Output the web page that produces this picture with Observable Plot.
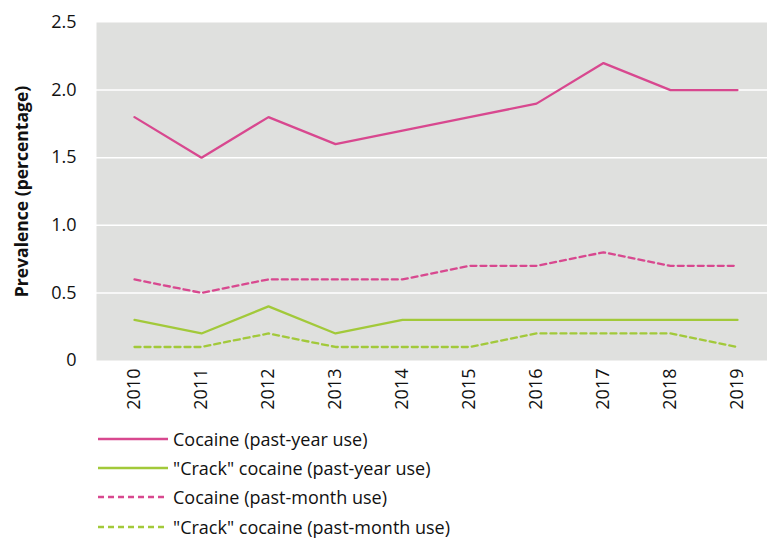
<!DOCTYPE html>
<html><head><meta charset="utf-8">
<script src="https://cdn.jsdelivr.net/npm/d3@7"></script>
<script src="https://cdn.jsdelivr.net/npm/@observablehq/plot@0.6"></script>
<style>
body{margin:0;background:#fff;font-family:"Open Sans",sans-serif;}
#chart svg{display:block;}
#legend{margin-left:98px;margin-top:2px;}
.row{display:flex;align-items:center;height:29.3px;font-size:18px;line-height:20px;color:#111;}
.row svg{margin-right:5px;}
</style></head><body>
<div id="chart"></div>
<div id="legend"></div>
<script>
const years = [2010,2011,2012,2013,2014,2015,2016,2017,2018,2019];
const cocaineYear = [1.8,1.5,1.8,1.6,1.7,1.8,1.9,2.2,2.0,2.0];
const crackYear = [0.3,0.2,0.4,0.2,0.3,0.3,0.3,0.3,0.3,0.3];
const cocaineMonth = [0.6,0.5,0.6,0.6,0.6,0.7,0.7,0.8,0.7,0.7];
const crackMonth = [0.1,0.1,0.2,0.1,0.1,0.1,0.2,0.2,0.2,0.1];
const seriesNames = ["Cocaine (past-year use)","\"Crack\" cocaine (past-year use)","Cocaine (past-month use)","\"Crack\" cocaine (past-month use)"];
const yTicks = [0,0.5,1.0,1.5,2.0,2.5];
const pink = "#d8488f", green = "#a2c93a";
const series = [
  {name: seriesNames[0], values: cocaineYear, color: pink, dash: null},
  {name: seriesNames[1], values: crackYear, color: green, dash: null},
  {name: seriesNames[2], values: cocaineMonth, color: pink, dash: "6,4"},
  {name: seriesNames[3], values: crackMonth, color: green, dash: "6,4"}
];
const rows = series.flatMap(s => years.map((y,i)=>({year:y, value:s.values[i], name:s.name})));

const marks = [
  Plot.frame({fill:"#dfe0de", stroke:null}),
  Plot.gridY(yTicks.slice(1,-1), {stroke:"#fff", strokeOpacity:1, strokeWidth:1.5}),
  ...series.map(s => Plot.line(rows.filter(r=>r.name===s.name), {x:"year", y:"value", stroke:s.color, strokeWidth:2.3, strokeDasharray:s.dash, strokeLinejoin:"miter"})),
  Plot.axisY(yTicks, {tickSize:0, tickPadding:20, fontSize:18, tickFormat:d=> d===0?"0":d.toFixed(1), fill:"#111"}),
  Plot.axisX(years, {tickSize:0, tickRotate:-90, tickPadding:8, fontSize:18, tickFormat:d=>String(d), fill:"#111"}),
  Plot.text(["Prevalence (percentage)"], {frameAnchor:"left", dx:-74, rotate:-90, textAnchor:"middle", fontWeight:"bold", fontSize:17.5, fill:"#111"})
];

const chart = Plot.plot({
  width: 767, height: 422,
  marginLeft: 96, marginRight: 0, marginTop: 22, marginBottom: 62,
  style: {fontFamily:"'Open Sans', sans-serif", background:"#fff"},
  x: {type:"point", domain: years, range:[130,740], padding:0, label:null},
  y: {domain:[0,2.5], label:null},
  marks
});
document.getElementById("chart").appendChild(chart);

const leg = document.getElementById("legend");
series.forEach(s => {
  const r = document.createElement("div"); r.className="row";
  r.innerHTML = `<svg width="70" height="10"><line x1="0" x2="70" y1="5" y2="5" stroke="${s.color}" stroke-width="2.5" ${s.dash?`stroke-dasharray="${s.dash}"`:""}/></svg><span>${s.name}</span>`;
  leg.appendChild(r);
});
</script>
</body></html>
